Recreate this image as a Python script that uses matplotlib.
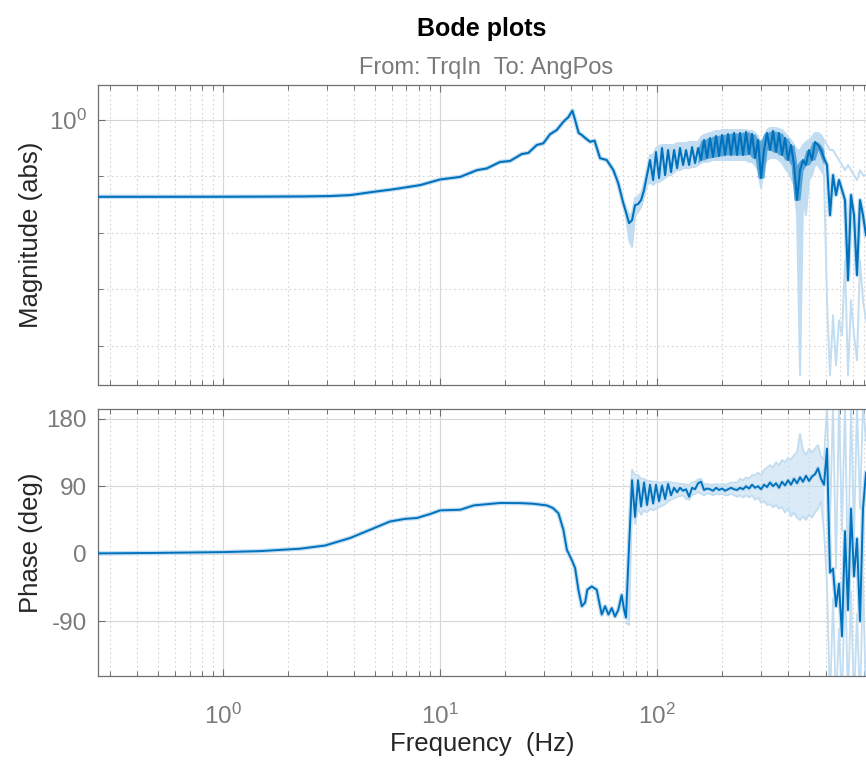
import numpy as np
import matplotlib.pyplot as plt
from matplotlib.ticker import FixedLocator, FixedFormatter, NullFormatter, LogLocator

plt.rcParams['font.family'] = ['Liberation Sans', 'DejaVu Sans']
plt.rcParams['mathtext.fontset'] = 'custom'
plt.rcParams['mathtext.rm'] = 'Liberation Sans'
plt.rcParams['mathtext.default'] = 'regular'

# ---- low frequency part (smooth estimate) ----
lf_mag_freq = [0.265, 0.5, 1.0, 1.5, 2.3, 3.1, 3.85, 5.0, 5.9, 6.5,
               8.1, 10.0, 12.4, 14.8, 16.4, 18.9, 21.0, 23.8, 25.5, 27.9,
               29.9, 32.1, 34.5, 37.0, 39.0, 40.7, 41.9, 43.5, 45.0, 46.6,
               49.1, 51.5, 54.6, 58.6, 62.9, 66.2, 69.8]
lf_mag = [0.0434, 0.0434, 0.0435, 0.0437, 0.0440, 0.0447, 0.0465, 0.0535, 0.058, 0.0613,
          0.070, 0.088, 0.098, 0.129, 0.138, 0.18, 0.187, 0.249, 0.26, 0.36,
          0.385, 0.557, 0.664, 0.93, 1.12, 1.46, 1.0, 0.59, 0.54, 0.48,
          0.41, 0.43, 0.21, 0.195, 0.129, 0.076, 0.034]

lf_ph_freq = [0.265, 0.46, 1.0, 1.48, 2.26, 2.95, 3.85, 4.76, 5.87, 6.89,
              7.8, 9.0, 10.0, 12.4, 14.3, 18.9, 23.4, 26.8, 31.0, 33.1,
              35.1, 37.0, 38.4, 40.4, 41.9, 43.4, 45.0, 46.6, 47.7, 50.0,
              52.7, 54.6, 55.6, 57.6, 59.7, 61.8, 64.0, 66.3, 68.7, 70.5]
lf_ph = [0.5, 1.0, 2.2, 3.5, 6.7, 11, 21, 32, 43, 46.5,
         47.6, 53, 57.8, 58.7, 64.5, 67.7, 67.5, 66.7, 64.5, 61,
         54, 32, 5.3, -8, -19, -48, -70, -65, -48, -43.6,
         -48, -70, -81, -70, -81, -72.5, -83.7, -74.8, -55, -75]

# ---- high frequency part, with confidence bounds ----
hf_freq = [71.9, 74.3, 76.7, 79.2, 81.7, 84.4, 87.1, 89.9, 92.8, 95.9,
           98.9, 102.1, 105.4, 108.9, 112.4, 116.0, 119.8, 123.7, 127.6, 131.8,
           136.0, 140.5, 145.0, 149.7, 154.5, 159.5, 164.7, 170.0, 175.5, 181.2,
           187.1, 193.1, 199.4, 205.8, 212.5, 219.3, 226.4, 233.8, 241.3, 249.1,
           257.2, 265.5, 274.1, 282.9, 292.1, 301.5, 311.3, 321.3, 331.7, 342.4,
           353.5, 364.9, 376.7, 388.9, 401.5, 414.4, 427.8, 441.7, 456.0, 470.7,
           485.9, 501.6, 517.8, 534.6, 551.9, 569.7, 588.1, 607.1, 626.8, 647.0,
           668.0, 689.6, 711.9, 734.9, 758.7, 783.2, 808.6, 834.7, 861.7, 889.6,
           918.4]
hf_mag = [0.0232, 0.0148, 0.0167, 0.0309, 0.0322, 0.0379, 0.0571, 0.105, 0.195, 0.0859,
          0.270, 0.0933, 0.318, 0.105, 0.293, 0.119, 0.293, 0.140, 0.318, 0.159,
          0.293, 0.159, 0.331, 0.172, 0.318, 0.195, 0.441, 0.211, 0.479, 0.220,
          0.520, 0.229, 0.542, 0.239, 0.564, 0.239, 0.588, 0.239, 0.588, 0.239,
          0.612, 0.249, 0.564, 0.211, 0.441, 0.0933, 0.293, 0.588, 0.293, 0.638,
          0.270, 0.588, 0.239, 0.479, 0.195, 0.360, 0.159, 0.0379, 0.129, 0.195,
          0.159, 0.293, 0.195, 0.407, 0.360, 0.293, 0.211, 0.159, 0.0205, 0.105,
          0.0466, 0.0859, 0.0571, 0.0379, 0.00144, 0.0466, 0.0205, 0.00177, 0.0379, 0.0205,
          0.00906]
hf_mag_hi = [0.0274, 0.0205, 0.0223, 0.0412, 0.0447, 0.0505, 0.0760, 0.129, 0.239, 0.239,
             0.318, 0.345, 0.360, 0.360, 0.360, 0.360, 0.360, 0.390, 0.390, 0.390,
             0.390, 0.407, 0.407, 0.407, 0.407, 0.499, 0.542, 0.564, 0.588, 0.612,
             0.638, 0.638, 0.664, 0.664, 0.664, 0.664, 0.664, 0.664, 0.664, 0.664,
             0.664, 0.638, 0.638, 0.588, 0.520, 0.293, 0.479, 0.664, 0.721, 0.721,
             0.721, 0.690, 0.664, 0.588, 0.499, 0.441, 0.360, 0.293, 0.293, 0.360,
             0.407, 0.441, 0.499, 0.588, 0.588, 0.542, 0.441, 0.360, 0.293, 0.293,
             0.239, 0.195, 0.159, 0.129, 0.159, 0.129, 0.105, 0.0859, 0.129, 0.105,
             0.105]
hf_mag_lo = [0.0197, 0.00739, 0.00555, 0.0205, 0.0232, 0.0285, 0.0429, 0.0700, 0.0792, 0.0700,
             0.0792, 0.0792, 0.0859, 0.0933, 0.105, 0.105, 0.119, 0.129, 0.129, 0.140,
             0.140, 0.140, 0.146, 0.146, 0.159, 0.172, 0.180, 0.180, 0.187, 0.195,
             0.195, 0.195, 0.195, 0.195, 0.195, 0.195, 0.195, 0.195, 0.195, 0.195,
             0.195, 0.180, 0.180, 0.159, 0.129, 0.0620, 0.159, 0.195, 0.211, 0.211,
             0.211, 0.195, 0.172, 0.140, 0.119, 0.0933, 0.0700, 0.0205, 2.96e-5, 0.0379,
             0.0205, 0.0859, 0.105, 0.159, 0.159, 0.129, 0.105, 0.000635, 2.96e-5, 0.000344,
             4.45e-5, 0.000281, 0.000152, 0.00326, 2.96e-5, 0.000635, 0.000152, 5.46e-5, 0.00326, 0.000635,
             0.000281]

hf_ph = [-85, 10, 98, 49, 98, 63, 95, 65, 92, 67,
         92, 70, 91, 73, 93, 78, 88, 82, 88, 84,
         86, 76, 88, 86, 94, 96, 85, 87, 86, 84,
         88, 85, 87, 84, 86, 88, 86, 85, 88, 86,
         90, 87, 92, 88, 90, 86, 92, 89, 95, 90,
         94, 88, 96, 91, 98, 92, 100, 94, 102, 96,
         104, 97, 103, 106, 114, 100, 92, 140, -25, -20,
         -70, -40, -110, 30, -75, 60, -30, 20, -90, 60,
         108]
hf_ph_lo = [-92, -95, 70, 40, 60, 52, 58, 55, 60, 58,
            60, 62, 64, 66, 70, 72, 74, 76, 77, 78,
            73, 72, 78, 80, 82, 80, 78, 80, 80, 78,
            80, 79, 80, 78, 78, 80, 78, 76, 78, 75,
            78, 75, 78, 72, 75, 68, 70, 65, 66, 62,
            65, 60, 62, 55, 60, 50, 55, 48, 45, 50,
            45, 52, 48, 55, 60, 70, 30, -40, -200, -60,
            -200, -100, -200, -20, -200, -50, -200, -80, -200, -30,
            -200]
hf_ph_hi = [-78, 40, 112, 105, 105, 100, 100, 97, 97, 96,
            96, 95, 95, 96, 96, 95, 94, 94, 93, 93,
            92, 92, 95, 96, 99, 100, 93, 93, 92, 92,
            93, 92, 93, 92, 93, 95, 95, 95, 100, 98,
            102, 100, 105, 105, 108, 105, 112, 115, 118, 115,
            122, 118, 125, 122, 128, 125, 132, 135, 160, 138,
            132, 140, 135, 140, 145, 130, 125, 200, 40, 200,
            -20, 200, 30, 200, -40, 200, 20, 200, 60, 200,
            150]

freq_ticks = [1, 10, 100]
freq_labels = ['$10^{0}$', '$10^{1}$', '$10^{2}$']
mag_ticks = [1]
mag_labels = ['$10^{0}$']
mag_minor = [1e-1, 1e-2, 1e-3, 1e-4]
ph_ticks = [-90, 0, 90, 180]

dark = '#0072BD'
light = '#c2ddf1'
tick_col = '#7a7a7a'
spine_col = '#6f6f6f'

W, H = 866, 762
fig = plt.figure(figsize=(W / 100, H / 100), dpi=100)
ax_mag = fig.add_axes([98 / W, 1 - 385 / H, 768 / W, 300 / H])
ax_ph = fig.add_axes([98 / W, 1 - 676 / H, 768 / W, 267 / H])

mag_freq_all = lf_mag_freq + hf_freq
mag_all = lf_mag + hf_mag
ph_freq_all = lf_ph_freq + hf_freq
ph_all = lf_ph + hf_ph

# the dense part of the magnitude trace reads as a solid band: shade
# between the local min and max of neighbouring samples
m = np.array(hf_mag)
env_lo = np.minimum(np.minimum(m, np.roll(m, 1)), np.roll(m, -1))
env_hi = np.maximum(np.maximum(m, np.roll(m, 1)), np.roll(m, -1))
dense = slice(24, 67)
n_calm = 67   # past this point the bounds are drawn as lines only

# magnitude
ax_mag.plot(mag_freq_all, mag_all, color=light, lw=3.2, zorder=2)
ax_mag.fill_between(hf_freq[:n_calm], hf_mag_lo[:n_calm], hf_mag_hi[:n_calm],
                    color=light, lw=0, zorder=2)
ax_mag.plot(hf_freq, hf_mag_lo, color=light, lw=1.4, zorder=2)
ax_mag.plot(hf_freq, hf_mag_hi, color=light, lw=1.4, zorder=2)
ax_mag.fill_between(hf_freq[dense], env_lo[dense], env_hi[dense], color=dark,
                    alpha=0.55, lw=0, zorder=3)
ax_mag.plot(mag_freq_all, mag_all, color=dark, lw=1.5, zorder=3)

# phase
ax_ph.plot(ph_freq_all, ph_all, color=light, lw=3.2, zorder=2)
ax_ph.fill_between(hf_freq[:n_calm], hf_ph_lo[:n_calm], hf_ph_hi[:n_calm],
                   color=light, alpha=0.6, lw=0, zorder=2)
ax_ph.plot(hf_freq, hf_ph_lo, color=light, lw=1.3, zorder=2)
ax_ph.plot(hf_freq, hf_ph_hi, color=light, lw=1.3, zorder=2)
ax_ph.plot(ph_freq_all, ph_all, color=dark, lw=1.4, zorder=3)

for ax in (ax_mag, ax_ph):
    ax.set_xscale('log')
    ax.set_xlim(0.265, 918.4)
    ax.xaxis.set_major_locator(FixedLocator(freq_ticks))
    ax.xaxis.set_minor_locator(LogLocator(base=10, subs=np.arange(2, 10), numticks=20))
    ax.xaxis.set_minor_formatter(NullFormatter())
    ax.grid(True, which='major', color='#d6d6d6', lw=0.8, ls='-')
    ax.grid(True, which='minor', axis='x', color='#d4d4d4', lw=0.8, ls=(0, (1.5, 2.5)))
    ax.tick_params(which='both', direction='in', top=True, right=False,
                   colors=spine_col, labelcolor=tick_col, labelsize=17.5)
    ax.tick_params(which='major', length=5, width=0.8)
    ax.tick_params(which='minor', length=3.5, width=0.7)
    ax.tick_params(axis='y', pad=8)
    ax.tick_params(axis='x', pad=20)
    for s in ('left', 'top', 'bottom'):
        ax.spines[s].set_color(spine_col)
        ax.spines[s].set_linewidth(0.9)
    ax.spines['right'].set_visible(False)
    ax.set_axisbelow(True)

ax_mag.set_yscale('log')
ax_mag.set_ylim(10 ** -4.7, 10 ** 0.62)
ax_mag.yaxis.set_major_locator(FixedLocator(mag_ticks))
ax_mag.yaxis.set_major_formatter(FixedFormatter(mag_labels))
ax_mag.yaxis.set_minor_locator(FixedLocator(mag_minor))
ax_mag.yaxis.set_minor_formatter(NullFormatter())
ax_mag.grid(True, which='minor', axis='y', color='#d4d4d4', lw=0.8, ls=(0, (1.5, 2.5)))
ax_mag.tick_params(axis='x', labelbottom=False)
ax_mag.set_ylabel('Magnitude (abs)', fontsize=18.5, color='#262626')
ax_mag.yaxis.set_label_coords(-0.072, 0.5)

ax_ph.set_ylim(-163, 193)
ax_ph.set_yticks(ph_ticks)
ax_ph.set_yticklabels([str(t) for t in ph_ticks])
ax_ph.xaxis.set_major_formatter(FixedFormatter(freq_labels))
ax_ph.set_ylabel('Phase (deg)', fontsize=18.5, color='#262626')
ax_ph.yaxis.set_label_coords(-0.072, 0.5)
ax_ph.set_xlabel('Frequency  (Hz)', fontsize=18.5, color='#262626', labelpad=2)

fig.text(482 / W, 1 - 29 / H, 'Bode plots', ha='center', va='center',
         fontsize=18, fontweight='bold', color='#000000')
fig.text(486 / W, 1 - 68 / H, 'From: TrqIn  To: AngPos', ha='center', va='center',
         fontsize=17, color=tick_col)

fig.savefig('out.png', dpi=100)
